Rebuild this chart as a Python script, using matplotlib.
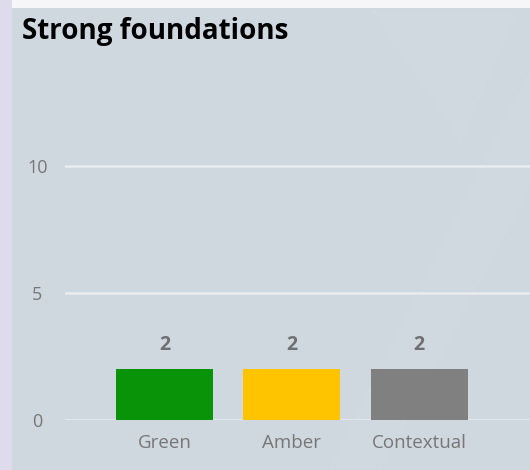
import matplotlib.pyplot as plt
from matplotlib.patches import Polygon, Rectangle

categories = ["Green", "Amber", "Contextual"]
counts = [2, 2, 2]
bar_colors = ["#089308", "#ffc400", "#808080"]
y_ticks = [0, 5, 10]

fig = plt.figure(figsize=(5.3, 4.7), dpi=100)
fig.patch.set_facecolor("#f6f6f8")

# page frame: lavender strip on the left and the grey card
fig.add_artist(Rectangle((0, 0), 12 / 530, 1, transform=fig.transFigure,
                         facecolor="#dedcec", edgecolor="none", zorder=0))
fig.add_artist(Rectangle((12 / 530, 0), 1, 1 - 8 / 470, transform=fig.transFigure,
                         facecolor="#cfd7df", edgecolor="none", zorder=0))

# soft light diagonal shapes in the card background
for pts in [
    [(0.70, 0.98), (0.98, 0.98), (0.87, 0.70)],
    [(1.0, 0.85), (1.0, 0.60), (0.72, 0.0), (0.62, 0.0)],
]:
    fig.add_artist(Polygon(pts, closed=True, transform=fig.transFigure,
                           facecolor="#dfe5ec", edgecolor="none", alpha=0.12, zorder=0))

fig.text(22 / 530, 1 - 32 / 470, "Strong foundations", fontsize=20,
         fontweight="bold", family="Open Sans", color="#000000", va="center")

ax = fig.add_axes([65 / 530, 50 / 470, 465 / 530, 305 / 470])
ax.set_facecolor("none")

x = range(len(categories))
bars = ax.bar(x, counts, width=0.76, color=bar_colors, zorder=3)
for b, v in zip(bars, counts):
    ax.text(b.get_x() + b.get_width() / 2, v + 0.55, str(v), ha="center", va="bottom",
            fontsize=14, fontweight="bold", color="#707070", family="Open Sans")

ax.set_xlim(-0.78, 2.87)
ax.set_ylim(0, 12)
ax.set_yticks(y_ticks)
ax.set_yticklabels([str(t) for t in y_ticks], family="Open Sans", fontsize=13, color="#777777")
ax.set_xticks(list(x))
ax.set_xticklabels(categories, family="Open Sans", fontsize=13.5, color="#777777")
ax.tick_params(length=0)
ax.tick_params(axis="y", pad=20)
ax.tick_params(axis="x", pad=10)
for lbl in ax.get_yticklabels():
    lbl.set_horizontalalignment("center")

ax.grid(axis="y", color="#e9edf0", linewidth=1.8, zorder=1)
for s in ax.spines.values():
    s.set_visible(False)

fig.savefig("out.png", dpi=100)
